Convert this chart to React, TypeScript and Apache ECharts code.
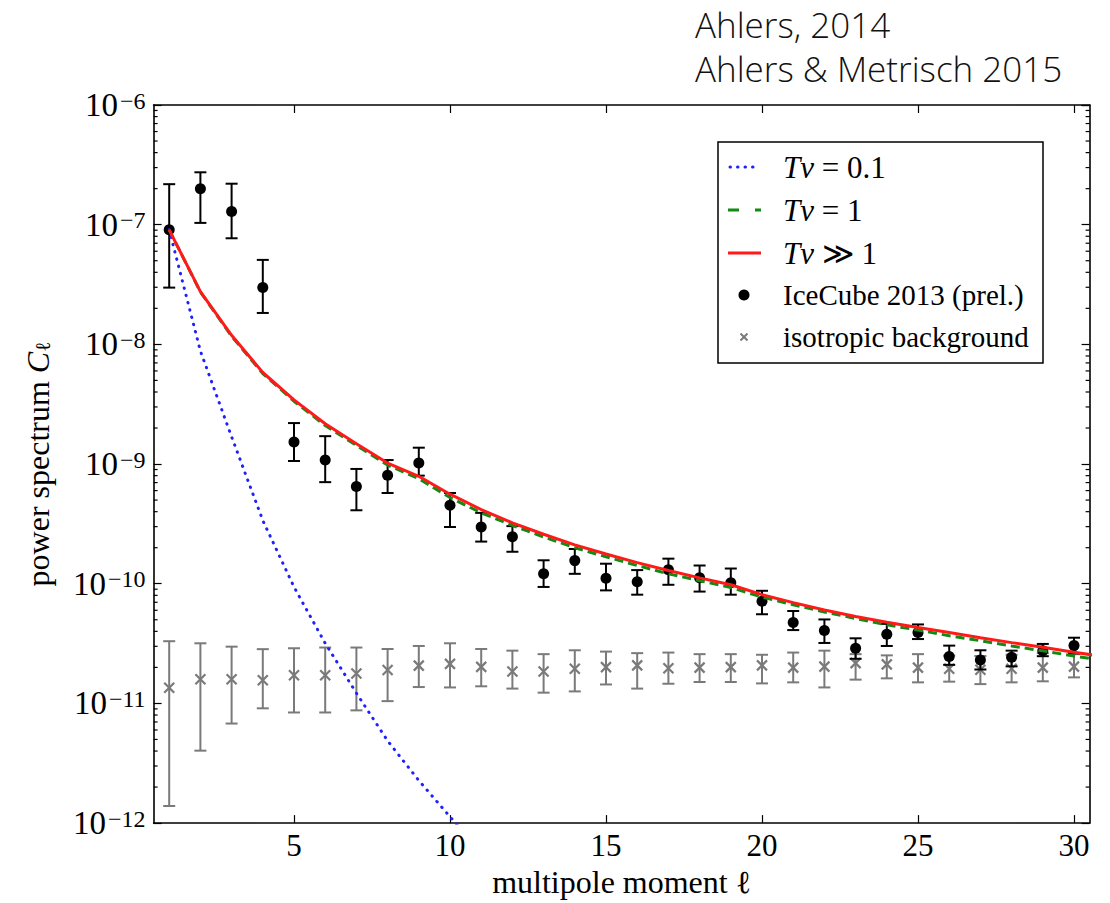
import React, { useEffect, useRef } from "react";
import * as echarts from "echarts";

// multipole moments
const ells = [1, 2, 3, 4, 5, 6, 7, 8, 9, 10, 11, 12, 13, 14, 15, 16, 17, 18, 19, 20, 21, 22, 23, 24, 25, 26, 27, 28, 29, 30];

// IceCube 2013 (prel.) power spectrum with lower / upper error
const iceCube = [9.06e-8, 2.0e-7, 1.29e-7, 2.98e-8, 1.53e-9, 1.08e-9, 6.5e-10, 8.07e-10, 1.02e-9, 4.53e-10, 2.98e-10, 2.47e-10, 1.21e-10, 1.56e-10, 1.11e-10, 1.04e-10, 1.31e-10, 1.12e-10, 1.02e-10, 7.13e-11, 4.74e-11, 4.07e-11, 2.89e-11, 3.78e-11, 3.92e-11, 2.47e-11, 2.31e-11, 2.43e-11, 2.76e-11, 3.04e-11];
const iceCubeLow = [2.98e-8, 1.035e-7, 7.7e-8, 1.83e-8, 1.06e-9, 7.06e-10, 4.11e-10, 5.73e-10, 8.0e-10, 2.98e-10, 2.25e-10, 1.85e-10, 9.4e-11, 1.21e-10, 8.8e-11, 8.1e-11, 9.8e-11, 8.6e-11, 8.1e-11, 5.56e-11, 4.1e-11, 3.2e-11, 2.36e-11, 3.02e-11, 3.45e-11, 2.1e-11, 1.92e-11, 2.04e-11, 2.48e-11, 2.62e-11];
const iceCubeHigh = [2.18e-7, 2.74e-7, 2.2e-7, 5.08e-8, 2.2e-9, 1.71e-9, 9.1e-10, 1.08e-9, 1.37e-9, 5.73e-10, 3.91e-10, 3.03e-10, 1.57e-10, 1.95e-10, 1.47e-10, 1.3e-10, 1.62e-10, 1.42e-10, 1.34e-10, 8.73e-11, 5.92e-11, 5.03e-11, 3.5e-11, 4.62e-11, 4.57e-11, 3.04e-11, 2.78e-11, 2.76e-11, 3.14e-11, 3.54e-11];

// isotropic background expectation with lower / upper error
const background = [1.35e-11, 1.59e-11, 1.59e-11, 1.56e-11, 1.72e-11, 1.72e-11, 1.78e-11, 1.9e-11, 2.07e-11, 2.14e-11, 2.02e-11, 1.85e-11, 1.85e-11, 1.95e-11, 2.01e-11, 2.08e-11, 1.97e-11, 1.99e-11, 2.01e-11, 2.08e-11, 1.99e-11, 2.03e-11, 2.17e-11, 2.12e-11, 1.99e-11, 1.95e-11, 1.91e-11, 1.95e-11, 1.99e-11, 2.03e-11];
const backgroundLow = [1.39e-12, 4.03e-12, 6.79e-12, 9.1e-12, 8.4e-12, 8.4e-12, 8.75e-12, 1.045e-11, 1.37e-11, 1.36e-11, 1.39e-11, 1.33e-11, 1.23e-11, 1.26e-11, 1.44e-11, 1.33e-11, 1.46e-11, 1.51e-11, 1.51e-11, 1.47e-11, 1.5e-11, 1.36e-11, 1.58e-11, 1.62e-11, 1.5e-11, 1.52e-11, 1.45e-11, 1.5e-11, 1.53e-11, 1.65e-11];
const backgroundHigh = [3.31e-11, 3.18e-11, 2.98e-11, 2.84e-11, 2.89e-11, 2.93e-11, 2.93e-11, 2.85e-11, 3.02e-11, 3.18e-11, 2.85e-11, 2.76e-11, 2.58e-11, 2.78e-11, 2.71e-11, 2.63e-11, 2.66e-11, 2.58e-11, 2.58e-11, 2.55e-11, 2.66e-11, 2.76e-11, 2.58e-11, 2.52e-11, 2.58e-11, 2.51e-11, 2.49e-11, 2.55e-11, 2.63e-11, 2.58e-11];

// model curves, evaluated at integer multipoles (one step past the plotted range)
const modelEll = [1, 2, 3, 4, 5, 6, 7, 8, 9, 10, 11, 12, 13, 14, 15, 16, 17, 18, 19, 20, 21, 22, 23, 24, 25, 26, 27, 28, 29, 30, 31];
const modelTv01 = [9.06e-8, 8.8e-9, 1.69e-9, 3.38e-10, 9.4e-11, 3.18e-11, 1.22e-11, 4.87e-12, 2.27e-12, 1.13e-12, 5.8e-13];
const modelTv1 = [9.06e-8, 2.74e-8, 1.17e-8, 5.7e-9, 3.35e-9, 2.1e-9, 1.43e-9, 9.8e-10, 7.55e-10, 5.25e-10, 3.91e-10, 3.07e-10, 2.46e-10, 2.0e-10, 1.68e-10, 1.42e-10, 1.21e-10, 1.06e-10, 9.3e-11, 7.73e-11, 6.68e-11, 5.81e-11, 5.12e-11, 4.53e-11, 4.1e-11, 3.68e-11, 3.34e-11, 3.02e-11, 2.75e-11, 2.49e-11, 2.27e-11];
const modelTvLarge = [9.06e-8, 2.76e-8, 1.19e-8, 5.82e-9, 3.44e-9, 2.17e-9, 1.48e-9, 1.02e-9, 7.9e-10, 5.6e-10, 4.17e-10, 3.23e-10, 2.59e-10, 2.11e-10, 1.77e-10, 1.5e-10, 1.29e-10, 1.12e-10, 9.8e-11, 8.1e-11, 6.95e-11, 6.04e-11, 5.32e-11, 4.77e-11, 4.31e-11, 3.92e-11, 3.54e-11, 3.22e-11, 2.95e-11, 2.68e-11, 2.45e-11];

// axes
const xTicks = [5, 10, 15, 20, 25, 30];
const xRange = [0.5, 30.5];
const yRange = [1e-12, 1e-6];
const minorMantissas = [2, 3, 4, 5, 6, 7, 8, 9];
const minorDecades = [1e-12, 1e-11, 1e-10, 1e-9, 1e-8, 1e-7];

const SERIF = "'Liberation Serif', 'Times New Roman', 'DejaVu Serif', serif";
const SANS = "'Open Sans', Roboto, 'Liberation Sans', sans-serif";
const GRAY = "#7a7a7a";
const BLUE = "#2020ff";
const GREEN = "#138a13";
const RED = "#ff1a1a";

const errorBarItem = (color: string) => (params: any, api: any) => {
  const x = api.value(0);
  const lo = api.coord([x, api.value(1)]);
  const hi = api.coord([x, api.value(2)]);
  const cap = 6;
  const style = { stroke: color, lineWidth: 2 };
  return {
    type: "group",
    children: [
      { type: "line", shape: { x1: lo[0], y1: lo[1], x2: hi[0], y2: hi[1] }, style },
      { type: "line", shape: { x1: lo[0] - cap, y1: lo[1], x2: lo[0] + cap, y2: lo[1] }, style },
      { type: "line", shape: { x1: hi[0] - cap, y1: hi[1], x2: hi[0] + cap, y2: hi[1] }, style },
    ],
  };
};

const crossItem = (params: any, api: any) => {
  const p = api.coord([api.value(0), api.value(1)]);
  const h = 5;
  const style = { stroke: GRAY, lineWidth: 2.2 };
  return {
    type: "group",
    children: [
      { type: "line", shape: { x1: p[0] - h, y1: p[1] - h, x2: p[0] + h, y2: p[1] + h }, style },
      { type: "line", shape: { x1: p[0] - h, y1: p[1] + h, x2: p[0] + h, y2: p[1] - h }, style },
    ],
  };
};

const minorTickItem = (params: any, api: any) => {
  const p = api.coord([xRange[0], api.value(1)]);
  const cs = params.coordSys;
  const style = { stroke: "#000", lineWidth: 1.2 };
  return {
    type: "group",
    children: [
      { type: "line", shape: { x1: cs.x, y1: p[1], x2: cs.x + 4, y2: p[1] }, style },
      { type: "line", shape: { x1: cs.x + cs.width - 4, y1: p[1], x2: cs.x + cs.width, y2: p[1] }, style },
    ],
  };
};

const legendRow = (y: number, symbol: any, richText: string) => [
  symbol,
  {
    type: "text",
    x: 783,
    y,
    style: {
      text: richText,
      fill: "#000",
      font: `29px ${SERIF}`,
      verticalAlign: "middle",
      rich: {
        m: { fontFamily: SERIF, fontSize: 31, fontStyle: "italic", fill: "#000" },
        n: { fontFamily: SERIF, fontSize: 29, fill: "#000" },
        q: { fontFamily: SERIF, fontSize: 31, fill: "#000" },
      },
    },
  },
];

export default function App() {
  const ref = useRef<HTMLDivElement>(null);

  useEffect(() => {
    const chart = echarts.init(ref.current!, null, { renderer: "svg" });

    const minorTicks: number[][] = [];
    minorDecades.forEach((d) => minorMantissas.forEach((m) => minorTicks.push([xRange[0], m * d])));

    const axisLine = { show: true, lineStyle: { color: "#000", width: 1.6 } };

    const option: any = {
      animation: false,
      backgroundColor: "#fff",
      grid: { left: 153.6, right: 20.4, top: 105, bottom: 73 },
      xAxis: [
        {
          type: "value",
          min: xRange[0],
          max: xRange[1],
          position: "bottom",
          axisLine,
          splitLine: { show: false },
          axisTick: { inside: true, length: 8, customValues: xTicks, lineStyle: { color: "#000", width: 1.2 } },
          axisLabel: { customValues: xTicks, color: "#000", fontFamily: SERIF, fontSize: 31, margin: 7 },
          name: "multipole moment ℓ",
          nameLocation: "middle",
          nameGap: 39,
          nameTextStyle: { color: "#000", fontFamily: SERIF, fontSize: 32 },
        },
        {
          type: "value",
          min: xRange[0],
          max: xRange[1],
          position: "top",
          axisLine,
          splitLine: { show: false },
          axisTick: { inside: true, length: 8, customValues: xTicks, lineStyle: { color: "#000", width: 1.2 } },
          axisLabel: { show: false },
        },
      ],
      yAxis: [
        {
          type: "log",
          logBase: 10,
          min: yRange[0],
          max: yRange[1],
          position: "left",
          axisLine,
          splitLine: { show: false },
          axisTick: { inside: true, length: 8, lineStyle: { color: "#000", width: 1.2 } },
          axisLabel: {
            color: "#000",
            margin: 8,
            formatter: (v: number) => `{b|10}{s|−${Math.round(-Math.log10(v))}}`,
            rich: {
              b: { fontFamily: SERIF, fontSize: 33, lineHeight: 33, padding: [9, 2, 0, 0], verticalAlign: "bottom", color: "#000" },
              s: { fontFamily: SERIF, fontSize: 24, lineHeight: 24, verticalAlign: "top", color: "#000" },
            },
          },
          name: "power spectrum {c|C}{l|ℓ}",
          nameLocation: "middle",
          nameRotate: 90,
          nameGap: 100,
          nameTextStyle: {
            color: "#000",
            fontFamily: SERIF,
            fontSize: 32,
            rich: {
              c: { fontFamily: SERIF, fontSize: 32, fontStyle: "italic", color: "#000", lineHeight: 32, verticalAlign: "top" },
              l: { fontFamily: SERIF, fontSize: 21, color: "#000", lineHeight: 21, verticalAlign: "bottom", padding: [11, 0, 0, 0] },
            },
          },
        },
        {
          type: "log",
          logBase: 10,
          min: yRange[0],
          max: yRange[1],
          position: "right",
          axisLine,
          splitLine: { show: false },
          axisTick: { inside: true, length: 8, lineStyle: { color: "#000", width: 1.2 } },
          axisLabel: { show: false },
        },
      ],
      series: [
        {
          name: "minor ticks",
          type: "custom",
          silent: true,
          renderItem: minorTickItem,
          data: minorTicks,
          z: 1,
        },
        {
          name: "isotropic background error",
          type: "custom",
          renderItem: errorBarItem(GRAY),
          data: ells.map((l, i) => [l, backgroundLow[i], backgroundHigh[i]]),
          clip: true,
          z: 2,
        },
        {
          name: "isotropic background",
          type: "custom",
          renderItem: crossItem,
          data: ells.map((l, i) => [l, background[i]]),
          clip: true,
          z: 2,
        },
        {
          name: "IceCube 2013 error",
          type: "custom",
          renderItem: errorBarItem("#000"),
          data: ells.map((l, i) => [l, iceCubeLow[i], iceCubeHigh[i]]),
          clip: true,
          z: 3,
        },
        {
          name: "IceCube 2013 (prel.)",
          type: "scatter",
          symbol: "circle",
          symbolSize: 11,
          itemStyle: { color: "#000", opacity: 1 },
          data: ells.map((l, i) => [l, iceCube[i]]),
          z: 3,
        },
        {
          name: "Tν = 0.1",
          type: "line",
          showSymbol: false,
          symbol: "none",
          clip: true,
          lineStyle: { color: BLUE, width: 3, type: [0.5, 7], cap: "round" },
          data: modelTv01.map((v, i) => [modelEll[i], v]),
          z: 4,
        },
        {
          name: "Tν = 1",
          type: "line",
          showSymbol: false,
          symbol: "none",
          clip: true,
          lineStyle: { color: GREEN, width: 3, type: [9, 5] },
          data: modelTv1.map((v, i) => [modelEll[i], v]),
          z: 4,
        },
        {
          name: "Tν ≫ 1",
          type: "line",
          showSymbol: false,
          symbol: "none",
          clip: true,
          lineStyle: { color: RED, width: 3 },
          data: modelTvLarge.map((v, i) => [modelEll[i], v]),
          z: 5,
        },
      ],
      graphic: [
        {
          type: "text",
          x: 695,
          y: 24,
          z: 100,
          style: { text: "Ahlers, 2014", fill: "#111", font: `300 35px ${SANS}`, verticalAlign: "middle" },
        },
        {
          type: "text",
          x: 695,
          y: 68,
          z: 100,
          style: { text: "Ahlers & Metrisch 2015", fill: "#111", font: `300 35px ${SANS}`, verticalAlign: "middle" },
        },
        {
          type: "group",
          z: 100,
          children: [
            {
              type: "rect",
              shape: { x: 718, y: 142, width: 325, height: 221 },
              style: { fill: "#fff", stroke: "#000", lineWidth: 1.5 },
            },
            ...legendRow(
              167,
              { type: "line", shape: { x1: 730, y1: 167, x2: 760, y2: 167 }, style: { stroke: BLUE, lineWidth: 3, lineDash: [0.5, 7], lineCap: "round" } },
              "{m|Tν}{q| = 0.1}"
            ),
            ...legendRow(
              210,
              { type: "line", shape: { x1: 728, y1: 210, x2: 761, y2: 210 }, style: { stroke: GREEN, lineWidth: 3, lineDash: [11, 16] } },
              "{m|Tν}{q| = 1}"
            ),
            ...legendRow(
              253,
              { type: "line", shape: { x1: 728, y1: 253, x2: 761, y2: 253 }, style: { stroke: RED, lineWidth: 3 } },
              "{m|Tν}{q| ≫ 1}"
            ),
            ...legendRow(295, { type: "circle", shape: { cx: 744, cy: 295, r: 5.5 }, style: { fill: "#000" } }, "{n|IceCube 2013 (prel.)}"),
            ...legendRow(
              337,
              {
                type: "group",
                children: [
                  { type: "line", shape: { x1: 740.5, y1: 333.5, x2: 747.5, y2: 340.5 }, style: { stroke: GRAY, lineWidth: 2 } },
                  { type: "line", shape: { x1: 740.5, y1: 340.5, x2: 747.5, y2: 333.5 }, style: { stroke: GRAY, lineWidth: 2 } },
                ],
              },
              "{n|isotropic background}"
            ),
          ],
        },
      ],
    };

    chart.setOption(option);
    return () => chart.dispose();
  }, []);

  return (
    <div
      ref={ref}
      style={{ position: "fixed", left: 0, top: 0, width: 1110, height: 903, background: "#fff" }}
    />
  );
}
